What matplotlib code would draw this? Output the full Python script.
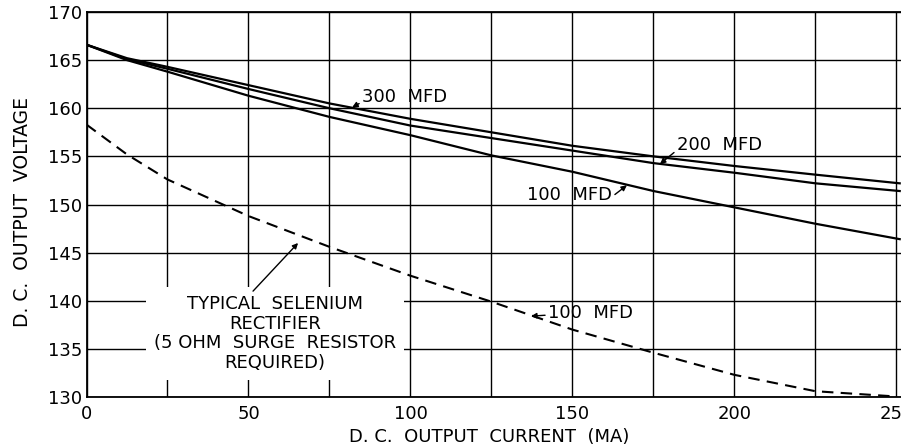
import numpy as np
import matplotlib
matplotlib.use('Agg')
from matplotlib import pyplot as plt

# output current (MA) where the curves were read
current = [0, 12.5, 25, 50, 75, 100, 125, 150, 175, 200, 225, 251]
v_300mfd = [166.6, 165.2, 164.3, 162.4, 160.5, 158.9, 157.5, 156.1, 155.0, 154.0, 153.1, 152.2]
v_200mfd = [166.6, 165.1, 164.1, 162.0, 160.0, 158.2, 156.9, 155.6, 154.3, 153.3, 152.2, 151.4]
v_100mfd = [166.6, 165.0, 163.8, 161.3, 159.1, 157.2, 155.1, 153.4, 151.4, 149.7, 148.0, 146.4]

# selenium rectifier, 100 mfd
current_se = [0, 12.5, 25, 50, 75, 100, 125, 150, 175, 200, 225, 250]
v_selenium = [158.3, 155.2, 152.6, 148.8, 145.6, 142.6, 139.9, 137.0, 134.6, 132.3, 130.6, 130.05]

xticks = [0, 25, 50, 75, 100, 125, 150, 175, 200, 225, 250]
xticklabels = ['0', '', '50', '', '100', '', '150', '', '200', '', '250']
yticks = [130, 135, 140, 145, 150, 155, 160, 165, 170]

plt.rcParams['font.family'] = ['DejaVu Sans']
FS = 13

fig = plt.figure(figsize=(9.01, 4.45), dpi=100)
ax = fig.add_axes([86.5/901, 48/445, 814.5/901, 385/445])

ax.plot(current, v_300mfd, color='k', lw=1.6, zorder=2)
ax.plot(current, v_200mfd, color='k', lw=1.6, zorder=2)
ax.plot(current, v_100mfd, color='k', lw=1.6, zorder=2)
ax.plot(current_se, v_selenium, color='k', lw=1.5, dashes=(5.5, 3.5), zorder=2)

ax.set_xlim(0, 251.4)
ax.set_ylim(130, 170)
ax.set_xticks(xticks)
ax.set_xticklabels(xticklabels)
ax.set_yticks(yticks)
ax.set_yticklabels([str(v) for v in yticks])
ax.tick_params(length=0, labelsize=FS)
ax.tick_params(axis='y', pad=3)
ax.tick_params(axis='x', pad=6)
ax.grid(True, color='k', lw=1.0)
ax.set_axisbelow(True)
for side in ['left', 'bottom', 'top']:
    ax.spines[side].set_linewidth(1.3)
ax.spines['right'].set_visible(False)

ax.set_xlabel('D. C.  OUTPUT  CURRENT  (MA)', fontsize=FS)
ax.xaxis.set_label_coords(0.495, -0.080)
ax.set_ylabel('D. C.  OUTPUT  VOLTAGE', fontsize=13.5)
ax.yaxis.set_label_coords(-0.067, 0.48)

arrow = dict(arrowstyle='-|>', color='k', lw=1.0, mutation_scale=8, shrinkA=0, shrinkB=0)

ax.annotate('300  MFD', xy=(82, 160.1), xytext=(85, 161.2), fontsize=FS,
            ha='left', va='center', arrowprops=dict(arrow, relpos=(0, 0.2)))
ax.annotate('200  MFD', xy=(177, 154.2), xytext=(182.2, 156.2), fontsize=FS,
            ha='left', va='center', arrowprops=dict(arrow, relpos=(0, 0.2)))
ax.annotate('100  MFD', xy=(166.8, 152.0), xytext=(136, 151.0), fontsize=FS,
            ha='left', va='center', arrowprops=dict(arrow, relpos=(1, 0.4)))
ax.annotate('100  MFD', xy=(137.2, 138.4), xytext=(142.4, 138.7), fontsize=FS,
            ha='left', va='center', arrowprops=dict(arrow, relpos=(0, 0.4)))

ax.text(58.2, 136.6, 'TYPICAL  SELENIUM\nRECTIFIER\n(5 OHM  SURGE  RESISTOR\nREQUIRED)',
        fontsize=FS, ha='center', va='center', multialignment='center', linespacing=1.1,
        bbox=dict(boxstyle='square', pad=0.45, fc='white', ec='none'), zorder=3)
ax.annotate('', xy=(65.3, 146.0), xytext=(51.4, 141.0), arrowprops=arrow)

fig.savefig('out.png', dpi=100)
